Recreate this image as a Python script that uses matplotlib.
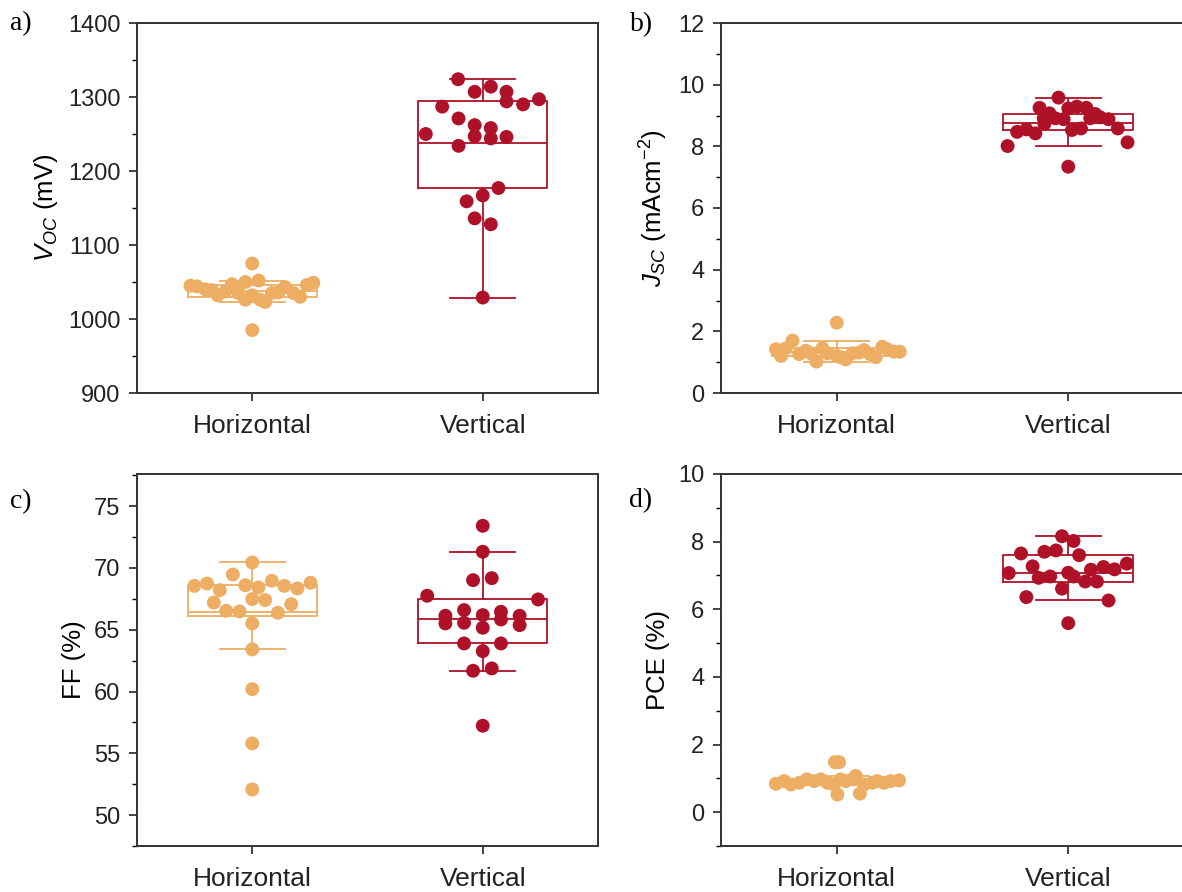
import matplotlib.pyplot as plt
from matplotlib.ticker import MultipleLocator

plt.rcParams['font.family'] = ['Liberation Sans', 'DejaVu Sans']
plt.rcParams['mathtext.fontset'] = 'custom'
plt.rcParams['mathtext.rm'] = 'Liberation Sans'
plt.rcParams['mathtext.it'] = 'Liberation Sans:italic'

groups = ['Horizontal', 'Vertical']
orange = '#EDAD62'
red = '#AE1128'

# ---- a) Voc (mV) ----
voc_h = [1045, 1044, 1040, 1039, 1032, 1037, 1047, 1035, 1050, 1026, 1075, 985,
         1032, 1052, 1026, 1023, 1035, 1036, 1043, 1035, 1030, 1046, 1049]
voc_h_dx = [-0.268, -0.24, -0.203, -0.175, -0.15, -0.117, -0.088, -0.059, -0.03, -0.03,
            0.0, 0.0, 0.0, 0.028, 0.035, 0.056, 0.085, 0.114, 0.143, 0.179, 0.208, 0.237, 0.265]
voc_v = [1324, 1307, 1314, 1307, 1294, 1290, 1297, 1287, 1271, 1262, 1258,
         1247, 1244, 1246, 1250, 1234, 1177, 1167, 1159, 1136, 1128, 1029]
voc_v_dx = [-0.107, -0.035, 0.035, 0.103, 0.103, 0.175, 0.244, -0.176, -0.105, -0.035, 0.035,
            -0.035, 0.035, 0.103, -0.247, -0.105, 0.068, 0.0, -0.07, -0.035, 0.035, 0.0]
# whislo, q1, median, q3, whishi
voc_h_box = [1023, 1030, 1038, 1046, 1051]
voc_v_box = [1029, 1177, 1238, 1295, 1324]

# ---- b) Jsc (mA cm-2) ----
jsc_h = [1.42, 1.20, 1.45, 1.70, 1.26, 1.37, 1.29, 1.02, 1.45, 1.29, 1.20, 2.28,
         1.16, 1.09, 1.29, 1.31, 1.39, 1.26, 1.16, 1.50, 1.42, 1.34, 1.34]
jsc_h_dx = [-0.263, -0.241, -0.22, -0.191, -0.162, -0.134, -0.112, -0.088, -0.062, -0.04, 0.0, 0.0,
            0.017, 0.039, 0.068, 0.096, 0.118, 0.144, 0.168, 0.197, 0.218, 0.247, 0.272]
jsc_v = [9.58, 9.25, 9.23, 9.29, 9.25, 9.07, 9.05, 8.91, 8.91, 8.88, 8.91, 8.94,
         8.88, 8.73, 8.47, 8.55, 8.42, 8.53, 8.58, 8.58, 8.01, 8.13, 7.34]
jsc_v_dx = [-0.042, -0.124, 0.0, 0.037, 0.078, -0.081, 0.116, -0.106, -0.056, -0.02, 0.095, 0.138,
            0.174, -0.103, -0.221, -0.181, -0.142, 0.016, 0.055, 0.214, -0.262, 0.256, 0.0]
jsc_h_box = [1.02, 1.20, 1.32, 1.45, 1.70]
jsc_v_box = [8.01, 8.53, 8.75, 9.04, 9.56]

# ---- c) FF (%) ----
ff_h = [70.44, 69.47, 68.55, 68.74, 68.2, 68.6, 68.42, 68.96, 68.55, 68.34, 68.8, 67.2,
        67.48, 67.4, 67.07, 66.53, 66.48, 66.37, 65.51, 63.41, 60.19, 55.8, 52.08]
ff_h_dx = [0.0, -0.084, -0.251, -0.196, -0.141, -0.03, 0.027, 0.085, 0.139, 0.196, 0.253, -0.167,
           0.0, 0.056, 0.169, -0.113, -0.055, 0.111, 0.0, 0.0, 0.0, 0.0, 0.0]
ff_v = [73.41, 71.31, 69.01, 69.17, 67.75, 67.45, 66.59, 66.13, 65.51, 65.56, 66.18,
        65.16, 66.45, 65.83, 66.13, 65.37, 63.89, 63.89, 63.27, 61.68, 61.87, 57.23]
ff_v_dx = [0.0, 0.0, -0.042, 0.039, -0.241, 0.24, -0.081, -0.162, -0.162, -0.081, 0.0,
           0.0, 0.079, 0.079, 0.16, 0.16, -0.081, 0.079, 0.0, -0.042, 0.039, 0.0]
ff_h_box = [63.41, 66.15, 66.4, 68.6, 70.44]
ff_v_box = [61.7, 63.89, 65.83, 67.45, 71.31]

# ---- d) PCE (%) ----
pce_h = [1.48, 1.48, 0.84, 0.92, 0.82, 0.87, 0.97, 0.92, 0.97, 0.87, 0.82, 0.52,
         0.97, 0.92, 0.97, 1.07, 0.55, 0.82, 0.87, 0.92, 0.87, 0.92, 0.94]
pce_h_dx = [-0.008, 0.01, -0.263, -0.227, -0.198, -0.162, -0.129, -0.098, -0.069, -0.04, -0.012,
            0.003, 0.017, 0.039, 0.068, 0.082, 0.1, 0.118, 0.154, 0.175, 0.204, 0.233, 0.269]
pce_v = [8.16, 8.02, 7.65, 7.70, 7.74, 7.60, 7.27, 7.35, 7.25, 7.18, 7.17,
         7.07, 7.08, 6.97, 6.93, 6.97, 6.82, 6.82, 6.61, 6.36, 6.26, 5.59]
pce_v_dx = [-0.027, 0.023, -0.204, -0.103, -0.053, 0.047, -0.154, 0.253, 0.152, 0.2, 0.098,
            -0.257, 0.0, 0.023, -0.128, -0.078, 0.073, 0.124, -0.027, -0.181, 0.174, 0.0]
pce_h_box = [0.80, 0.86, 0.92, 0.97, 1.07]
pce_v_box = [6.26, 6.80, 7.08, 7.60, 8.16]


def box_stats(b):
    return {'whislo': b[0], 'q1': b[1], 'med': b[2], 'q3': b[3], 'whishi': b[4], 'fliers': []}


def draw_panel(ax, h, h_dx, v, v_dx, hbox, vbox, ylim, major, minor, ylabel, letter, letter_xy):
    for pos, vals, dx, b, col in [(1, h, h_dx, hbox, orange), (2, v, v_dx, vbox, red)]:
        props = dict(color=col, linewidth=1.3)
        ax.bxp([box_stats(b)], positions=[pos], widths=0.56, capwidths=0.28,
               boxprops=props, whiskerprops=props, capprops=props, medianprops=props,
               showfliers=False, manage_ticks=False, zorder=2)
        ax.scatter([pos + d for d in dx], vals, s=100, color=col, edgecolors='none', zorder=3)

    ax.set_xlim(0.5, 2.5)
    ax.set_ylim(*ylim)
    ax.set_xticks([1, 2])
    ax.set_xticklabels(groups)
    ax.yaxis.set_major_locator(MultipleLocator(major))
    ax.yaxis.set_minor_locator(MultipleLocator(minor))
    ax.tick_params(axis='both', which='major', direction='out', length=6, width=1.2,
                   colors='#222222', pad=6)
    ax.tick_params(axis='y', labelsize=17)
    ax.tick_params(axis='x', labelsize=19, pad=9)
    ax.tick_params(axis='y', which='minor', direction='out', length=3.5, width=1.0)
    ax.tick_params(axis='x', which='minor', bottom=False)
    for s in ax.spines.values():
        s.set_linewidth(1.4)
        s.set_color('#333333')
    ax.set_ylabel(ylabel, fontsize=18.5, labelpad=6)
    fig.text(letter_xy[0] / 1182, 1 - letter_xy[1] / 892, letter, fontsize=20,
             family=['Liberation Serif', 'DejaVu Serif'], va='center', ha='left')


fig = plt.figure(figsize=(11.82, 8.92), dpi=100)
ax_a = fig.add_axes([137 / 1182, 1 - 393 / 892, 461 / 1182, 370 / 892])
ax_b = fig.add_axes([721 / 1182, 1 - 393 / 892, 463 / 1182, 370 / 892])
ax_c = fig.add_axes([137 / 1182, 1 - 846 / 892, 461 / 1182, 372 / 892])
ax_d = fig.add_axes([721 / 1182, 1 - 846 / 892, 463 / 1182, 372 / 892])

draw_panel(ax_a, voc_h, voc_h_dx, voc_v, voc_v_dx, voc_h_box, voc_v_box,
           (900, 1400), 100, 50, r'$V_{OC}$ (mV)', 'a)', (10, 24))
draw_panel(ax_b, jsc_h, jsc_h_dx, jsc_v, jsc_v_dx, jsc_h_box, jsc_v_box,
           (0, 12), 2, 1, r'$J_{SC}$ (mAcm$^{-2}$)', 'b)', (630, 25))
draw_panel(ax_c, ff_h, ff_h_dx, ff_v, ff_v_dx, ff_h_box, ff_v_box,
           (47.5, 77.6), 5, 2.5, 'FF (%)', 'c)', (10, 502))
draw_panel(ax_d, pce_h, pce_h_dx, pce_v, pce_v_dx, pce_h_box, pce_v_box,
           (-1, 10), 2, 1, 'PCE (%)', 'd)', (629, 501))

fig.savefig('out.png', dpi=100)
